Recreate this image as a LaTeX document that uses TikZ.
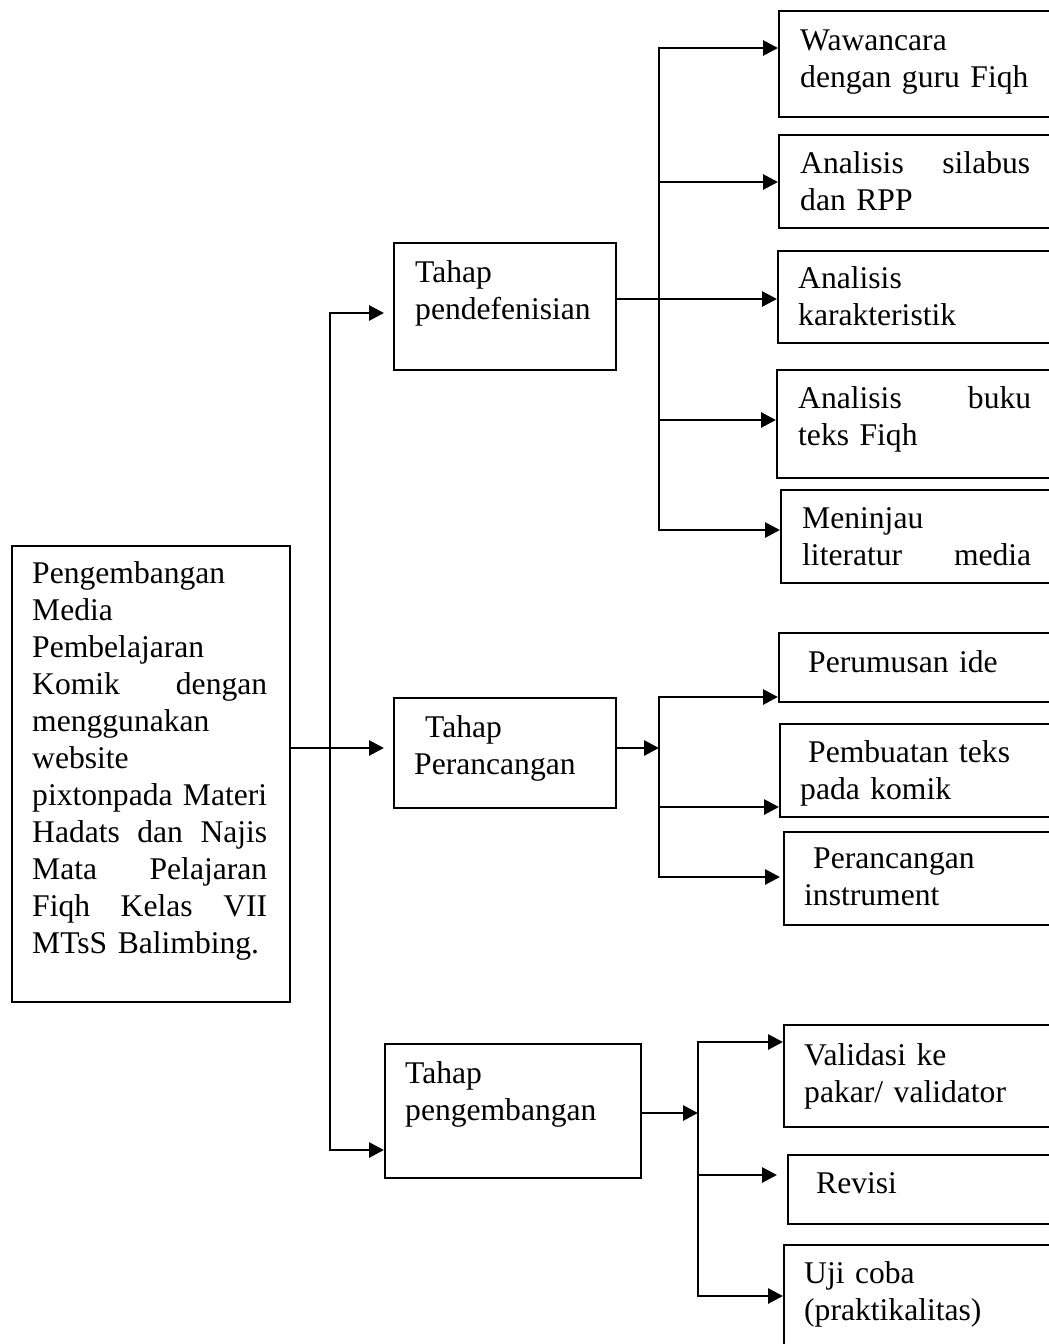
\documentclass[tikz,border=0pt]{standalone}
\usepackage{fontspec}
\setmainfont{Liberation Serif}
\usetikzlibrary{arrows.meta}
\tikzset{
  box/.style={draw, line width=1.8pt, inner sep=0pt, anchor=north west},
  txt/.style={font=\fontsize{31.6}{37}\selectfont, align=left, inner sep=0pt, anchor=north west},
  thinln/.style={line width=1.4pt},
  arr/.style={line width=2.8pt, -{Triangle[length=15pt,width=15pt]}},
}
\newcommand{\mkbox}[5]{\node[box, minimum width={(#4-#2)*1pt}, minimum height={(#5-#3)*1pt}] (#1) at (#2,#3) {};}
\newcommand{\mktxt}[5]{\node[txt, text width=#4pt] (#1) at (#2,#3-25.9) {\strut #5};}
\begin{document}
\begin{tikzpicture}[x=1pt,y=-1pt]
\useasboundingbox (0,0) rectangle (1049,1344);
\clip (0,0) rectangle (1049,1344);
\fill[white] (0,0) rectangle (1049,1344);
% boxes
\mkbox{L}{11}{545}{289}{1001}
\mkbox{P1}{393}{242}{615}{369}
\mkbox{P2}{393}{697}{615}{807}
\mkbox{P3}{384}{1043}{640}{1177}
\mkbox{R1}{778}{10}{1070}{116}
\mkbox{R2}{778}{134}{1070}{227}
\mkbox{R3}{777}{250}{1070}{342}
\mkbox{R4}{776}{369}{1070}{477}
\mkbox{R5}{780}{489}{1070}{582}
\mkbox{R6}{778}{632}{1070}{701}
\mkbox{R7}{779}{723}{1070}{816}
\mkbox{R8}{783}{831}{1070}{924}
\mkbox{R9}{783}{1024}{1070}{1126}
\mkbox{R10}{787}{1154}{1070}{1223}
\mkbox{R11}{783}{1244}{1070}{1370}
% texts
\mktxt{Lt}{32}{583}{235}{Pengembangan\\Media\\Pembelajaran\\Komik\hfill dengan\\menggunakan\\website\\pixtonpada\hfill Materi\\Hadats\hfill dan\hfill Najis\\Mata\hfill Pelajaran\\Fiqh\hfill Kelas\hfill VII\\MTsS Balimbing.}
\mktxt{P1t}{415}{282}{190}{Tahap\\pendefenisian}
\mktxt{P2t}{414}{737}{190}{\hspace*{11pt}Tahap\\Perancangan}
\mktxt{P3t}{405}{1083}{230}{Tahap\\pengembangan}
\mktxt{R1t}{800}{50}{240}{Wawancara\\dengan guru Fiqh}
\mktxt{R2t}{800}{173}{230}{Analisis\hfill silabus\\dan RPP}
\mktxt{R3t}{798}{288}{232}{Analisis\\karakteristik}
\mktxt{R4t}{798}{408}{233}{Analisis\hfill buku\\teks Fiqh}
\mktxt{R5t}{802}{528}{229}{Meninjau\\literatur\hfill media}
\mktxt{R6t}{808}{672}{230}{Perumusan ide}
\mktxt{R7t}{800}{762}{240}{\hspace*{8pt}Pembuatan teks\\pada komik}
\mktxt{R8t}{804}{868}{240}{\hspace*{9pt}Perancangan\\instrument}
\mktxt{R9t}{804}{1065}{240}{Validasi ke\\pakar/ validator}
\mktxt{R10t}{816}{1193}{200}{Revisi}
\mktxt{R11t}{804}{1283}{240}{Uji coba\\(praktikalitas)}
% coordinates
\coordinate (j0) at (330,748);
\coordinate (y313) at (0,313);
\coordinate (y1150) at (0,1150);
\coordinate (k0) at (659,299);
\coordinate (y48) at (0,48);
\coordinate (y182) at (0,182);
\coordinate (y420) at (0,420);
\coordinate (y530) at (0,530);
\coordinate (k1) at (659,748);
\coordinate (y697) at (0,697);
\coordinate (y807) at (0,807);
\coordinate (y877) at (0,877);
\coordinate (k2) at (698,1113);
\coordinate (y1042) at (0,1042);
\coordinate (y1175) at (0,1175);
\coordinate (y1296) at (0,1296);
% left connectors
\draw[thinln] (L.east |- j0) -- (j0);
\draw[arr, shorten >=9pt] (j0) -- (P2.west |- j0);
\draw[arr, shorten >=9pt] (j0) |- (P1.west |- y313);
\draw[arr] (j0) |- (P3.west |- y1150);
% column 1
\draw[thinln] (P1.east |- k0) -- (k0);
\draw[arr] (k0) -- (R3.west |- k0);
\draw[arr] (k0) |- (R1.west |- y48);
\draw[arr] (k0) |- (R2.west |- y182);
\draw[arr] (k0) |- (R4.west |- y420);
\draw[arr] (k0) |- (R5.west |- y530);
% column 2
\draw[arr] (P2.east |- k1) -- (k1);
\draw[arr] (k1) |- (R6.west |- y697);
\draw[arr] (k1) |- (R7.west |- y807);
\draw[arr, shorten >=3pt] (k1) |- (R8.west |- y877);
% column 3
\draw[arr] (P3.east |- k2) -- (k2);
\draw[arr] (k2) |- (R9.west |- y1042);
\draw[arr, shorten >=10pt] (k2) |- (R10.west |- y1175);
\draw[arr] (k2) |- (R11.west |- y1296);
\end{tikzpicture}
\end{document}
